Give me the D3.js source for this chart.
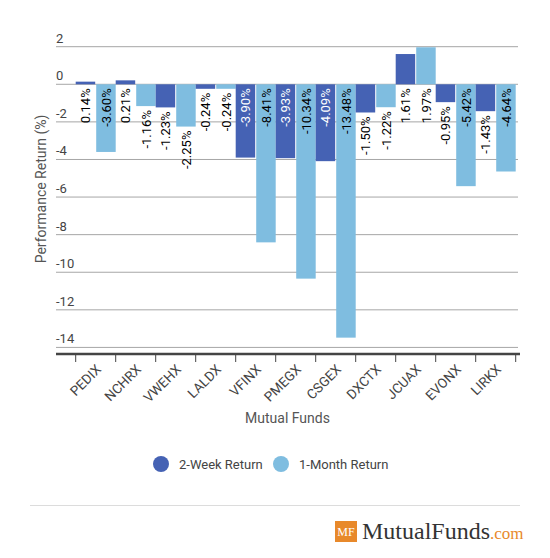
<!DOCTYPE html>
<html>
<head>
<meta charset="utf-8">
<script src="https://cdn.jsdelivr.net/npm/d3@7"></script>
<style>
  body { margin: 0; background: #fff; font-family: Roboto, "Noto Sans", sans-serif; }
  #chart { width: 550px; height: 558px; }
</style>
</head>
<body>
<div id="chart"></div>
<script>
const FUNDS = ["PEDIX","NCHRX","VWEHX","LALDX","VFINX","PMEGX","CSGEX","DXCTX","JCUAX","EVONX","LIRKX"];
const TWO_WEEK  = [0.14, 0.21, -1.23, -0.24, -3.90, -3.93, -4.09, -1.50, 1.61, -0.95, -1.43];
const ONE_MONTH = [-3.60, -1.16, -2.25, -0.24, -8.41, -10.34, -13.48, -1.22, 1.97, -5.42, -4.64];
const Y_TICKS = [2, 0, -2, -4, -6, -8, -10, -12, -14];

const SERIES = [
  { key: "twoWeek",  label: "2-Week Return",  color: "#4562B4", text: "#fff" },
  { key: "oneMonth", label: "1-Month Return", color: "#7FBDE0", text: "#000" },
];

const rows = FUNDS.map((f, i) => ({ fund: f, twoWeek: TWO_WEEK[i], oneMonth: ONE_MONTH[i] }));

const W = 550, H = 558;
const plotLeft = 56, plotRight = 519;
const svg = d3.select("#chart").append("svg").attr("width", W).attr("height", H);

const y = d3.scaleLinear().domain([-14.35, 2]).range([354, 46.7]);
const x0 = d3.scaleBand().domain(FUNDS).range([75.7, 515.7]).padding(0);
const x1 = d3.scaleBand().domain(SERIES.map((s) => s.key)).range([0, x0.bandwidth()]).paddingInner(0.05);

// Gridlines + y labels
svg.selectAll(".grid")
  .data(Y_TICKS)
  .join("line")
  .attr("x1", plotLeft).attr("x2", plotRight - 1)
  .attr("y1", (d) => y(d)).attr("y2", (d) => y(d))
  .attr("stroke", "#a6a6a6").attr("stroke-width", 1);

svg.selectAll(".ylab")
  .data(Y_TICKS)
  .join("text")
  .attr("x", plotLeft).attr("y", (d) => y(d) - 4)
  .attr("fill", "#444").attr("font-size", "13px")
  .text((d) => d);

// Bars
const groups = svg.selectAll(".grp")
  .data(rows)
  .join("g")
  .attr("transform", (d) => `translate(${x0(d.fund)},0)`);

const cells = groups.selectAll("g")
  .data((d) => SERIES.map((s) => ({ ...s, value: d[s.key] })))
  .join("g");

cells.append("rect")
  .attr("x", (d) => x1(d.key))
  .attr("y", (d) => y(Math.max(0, d.value)))
  .attr("width", x1.bandwidth())
  .attr("height", (d) => Math.abs(y(d.value) - y(0)))
  .attr("fill", (d) => d.color);

// Value labels (rotated)
const fmt = (v) => v.toFixed(2) + "%";
const approxLen = (s) => s.length * 6.6;
cells.append("text")
  .attr("transform", (d) => {
    const cx = x1(d.key) + x1.bandwidth() / 2;
    const barLen = d.value < 0 ? y(d.value) - y(0) : 0;
    const inside = d.value < 0 && approxLen(fmt(d.value)) + 8 < barLen;
    const top = inside || d.value >= 0 ? y(0) + 4 : y(d.value) + 4;
    d.inside = inside;
    return `translate(${cx},${top}) rotate(-90)`;
  })
  .attr("dy", "0.35em")
  .attr("text-anchor", "end")
  .attr("font-size", "13px")
  .attr("fill", (d) => d.inside ? d.text : "#000")
  .text((d) => fmt(d.value));

// X axis
svg.append("line")
  .attr("x1", plotLeft).attr("x2", plotRight + 1)
  .attr("y1", 354).attr("y2", 354)
  .attr("stroke", "#444").attr("stroke-width", 2.5);

const tickPos = FUNDS.map((f) => x0(f)).concat([x0(FUNDS[FUNDS.length - 1]) + x0.bandwidth()]);
svg.selectAll(".xtick")
  .data(tickPos)
  .join("line")
  .attr("x1", (d) => d).attr("x2", (d) => d)
  .attr("y1", 354).attr("y2", 362)
  .attr("stroke", "#444").attr("stroke-width", 1);

svg.selectAll(".xlab")
  .data(FUNDS)
  .join("text")
  .attr("transform", (d) => `translate(${x0(d) + x0.bandwidth() / 2 + 3},${367}) rotate(-45)`)
  .attr("text-anchor", "end")
  .attr("dy", "0.35em")
  .attr("fill", "#444").attr("font-size", "13.5px")
  .text((d) => d);

// Axis titles
svg.append("text")
  .attr("x", (plotLeft + plotRight) / 2).attr("y", 423)
  .attr("text-anchor", "middle")
  .attr("fill", "#555").attr("font-size", "14px")
  .text("Mutual Funds");

svg.append("text")
  .attr("transform", "translate(46,189) rotate(-90)")
  .attr("text-anchor", "middle")
  .attr("fill", "#555").attr("font-size", "14px")
  .text("Performance Return (%)");

// Legend
const legend = svg.selectAll(".legend")
  .data(SERIES)
  .join("g")
  .attr("transform", (d, i) => `translate(${i === 0 ? 161 : 281},464)`);
legend.append("circle").attr("r", 8).attr("fill", (d) => d.color);
legend.append("text")
  .attr("x", 18).attr("dy", "0.35em")
  .attr("fill", "#444").attr("font-size", "13px")
  .text((d) => d.label);

// Footer
svg.append("line")
  .attr("x1", 30).attr("x2", 520)
  .attr("y1", 505.5).attr("y2", 505.5)
  .attr("stroke", "#dcdcdc").attr("stroke-width", 1);

svg.append("rect")
  .attr("x", 335).attr("y", 521).attr("width", 22).attr("height", 21)
  .attr("fill", "#E8892B");
svg.append("text")
  .attr("x", 346).attr("y", 536).attr("text-anchor", "middle")
  .attr("fill", "#fff").attr("font-family", "'Liberation Serif', serif")
  .attr("font-size", "12px")
  .text("MF");
const logo = svg.append("text")
  .attr("x", 362).attr("y", 539)
  .attr("font-family", "'Liberation Serif', serif");
logo.append("tspan").attr("fill", "#333").attr("font-size", "24px").text("MutualFunds");
logo.append("tspan").attr("fill", "#E8892B").attr("font-size", "17px").text(".com");
</script>
</body>
</html>
